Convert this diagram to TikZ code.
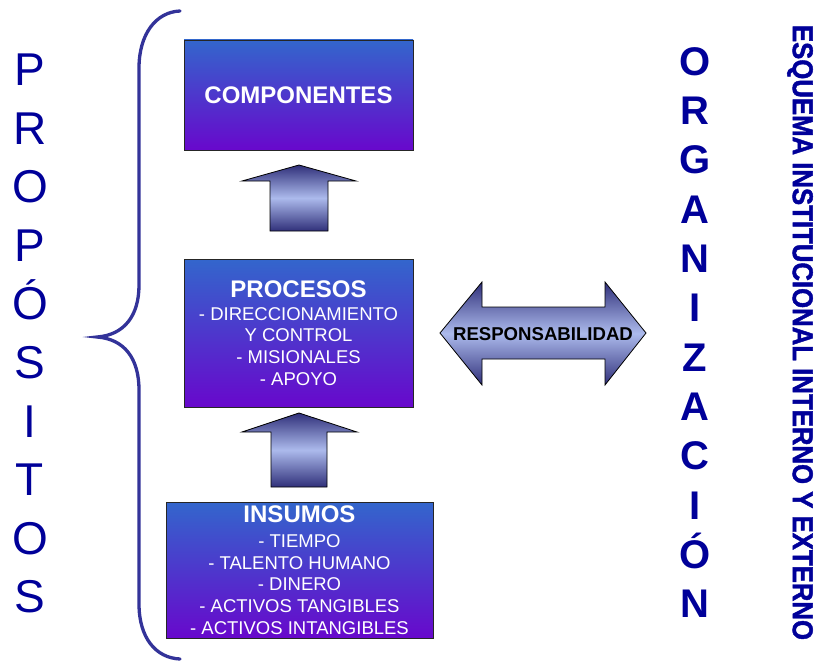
\documentclass[tikz,border=0pt]{standalone}
\usepackage{fontspec}
\setmainfont{Liberation Sans}
\newfontfamily\gruesa{Liberation Sans}[BoldFeatures={FakeBold=1.6}]
\usepackage{graphicx}
\usepackage{tikz}
\usetikzlibrary{calc}

\definecolor{azulcaja}{RGB}{51,102,204}
\definecolor{moradocaja}{RGB}{104,8,204}
\definecolor{azultexto}{RGB}{0,0,153}
\definecolor{colorllave}{RGB}{51,51,153}
\definecolor{flechaoscura}{RGB}{48,48,122}
\definecolor{flechaclara}{RGB}{172,186,236}

\tikzset{
  caja/.style={draw=black!85, line width=0.8pt, top color=azulcaja,
    bottom color=moradocaja, inner sep=0pt, text=white, align=center,
    font=\fontsize{18.5}{21.7}\selectfont},
  flecha/.style={draw=black, line width=0.8pt, line join=miter,
    top color=flechaoscura, bottom color=flechaoscura, middle color=flechaclara},
  letrap/.style={anchor=base, text=azultexto, font=\fontsize{46}{46}\selectfont},
  letrao/.style={anchor=base, text=azultexto, font=\fontsize{40}{40}\selectfont\bfseries}
}

\begin{document}
\begin{tikzpicture}[x=1pt, y=-1pt]
  \useasboundingbox (0,0) rectangle (814,661);

  % cajas
  \node[caja, minimum width=229, minimum height=110] (comp) at (298.5,95)
    {\fontsize{24}{24}\selectfont\bfseries COMPONENTES};
  \node[caja, minimum width=229, minimum height=148] (proc) at (298.5,333)
    {{\fontsize{24}{24}\selectfont\bfseries PROCESOS}\\[1.3pt]
     - DIRECCIONAMIENTO\\ Y CONTROL\\ - MISIONALES\\ - APOYO};
  \node[caja, minimum width=267, minimum height=136] (insu) at (299.5,570)
    {{\fontsize{24}{24}\selectfont\bfseries INSUMOS}\\[3.3pt]
     - TIEMPO\\ - TALENTO HUMANO\\ - DINERO\\ - ACTIVOS TANGIBLES\\
     - ACTIVOS INTANGIBLES};

  % flechas hacia arriba
  \path[flecha] (299,165) -- (356,181) -- (328,181) -- (328,231)
    -- (270,231) -- (270,181) -- (242,181) -- cycle;
  \path[flecha] (299,413) -- (357,432) -- (327,432) -- (327,487)
    -- (271,487) -- (271,432) -- (242,432) -- cycle;

  % flecha doble
  \path[flecha] (440,333) -- (482,282) -- (482,307) -- (605,307)
    -- (605,282) -- (646,333) -- (605,385) -- (605,359) -- (482,359)
    -- (482,385) -- cycle;
  \node[font=\fontsize{18.6}{18.6}\selectfont\bfseries] (resp) at (543,334)
    {RESPONSABILIDAD};

  % llave
  \draw[colorllave, line width=3.3pt, line cap=round]
    (180,11) .. controls (156,12) and (139,34) .. (139,68) -- (139,285)
    .. controls (139,316) and (124,335) .. (97,337)
    .. controls (124,339) and (139,358) .. (139,390) -- (139,604)
    .. controls (139,638) and (156,658) .. (180,659);

  % textos laterales
  \foreach \letra [count=\i from 0] in {P,R,O,P,Ó,S,I,T,O,S}
    \node[letrap] (p\i) at (30,85.5+58.6*\i) {\letra};
  \foreach \letra [count=\i from 0] in {O,R,G,A,N,I,Z,A,C,I,Ó,N}
    \node[letrao] (o\i) at (695,75.3+49.3*\i) {\letra};
  \node[rotate=-90, text=azultexto, inner sep=0pt] (esquema) at (800,332.5)
    {\resizebox{615pt}{20pt}{\gruesa\bfseries ESQUEMA INSTITUCIONAL INTERNO Y EXTERNO}};
\end{tikzpicture}
\end{document}
